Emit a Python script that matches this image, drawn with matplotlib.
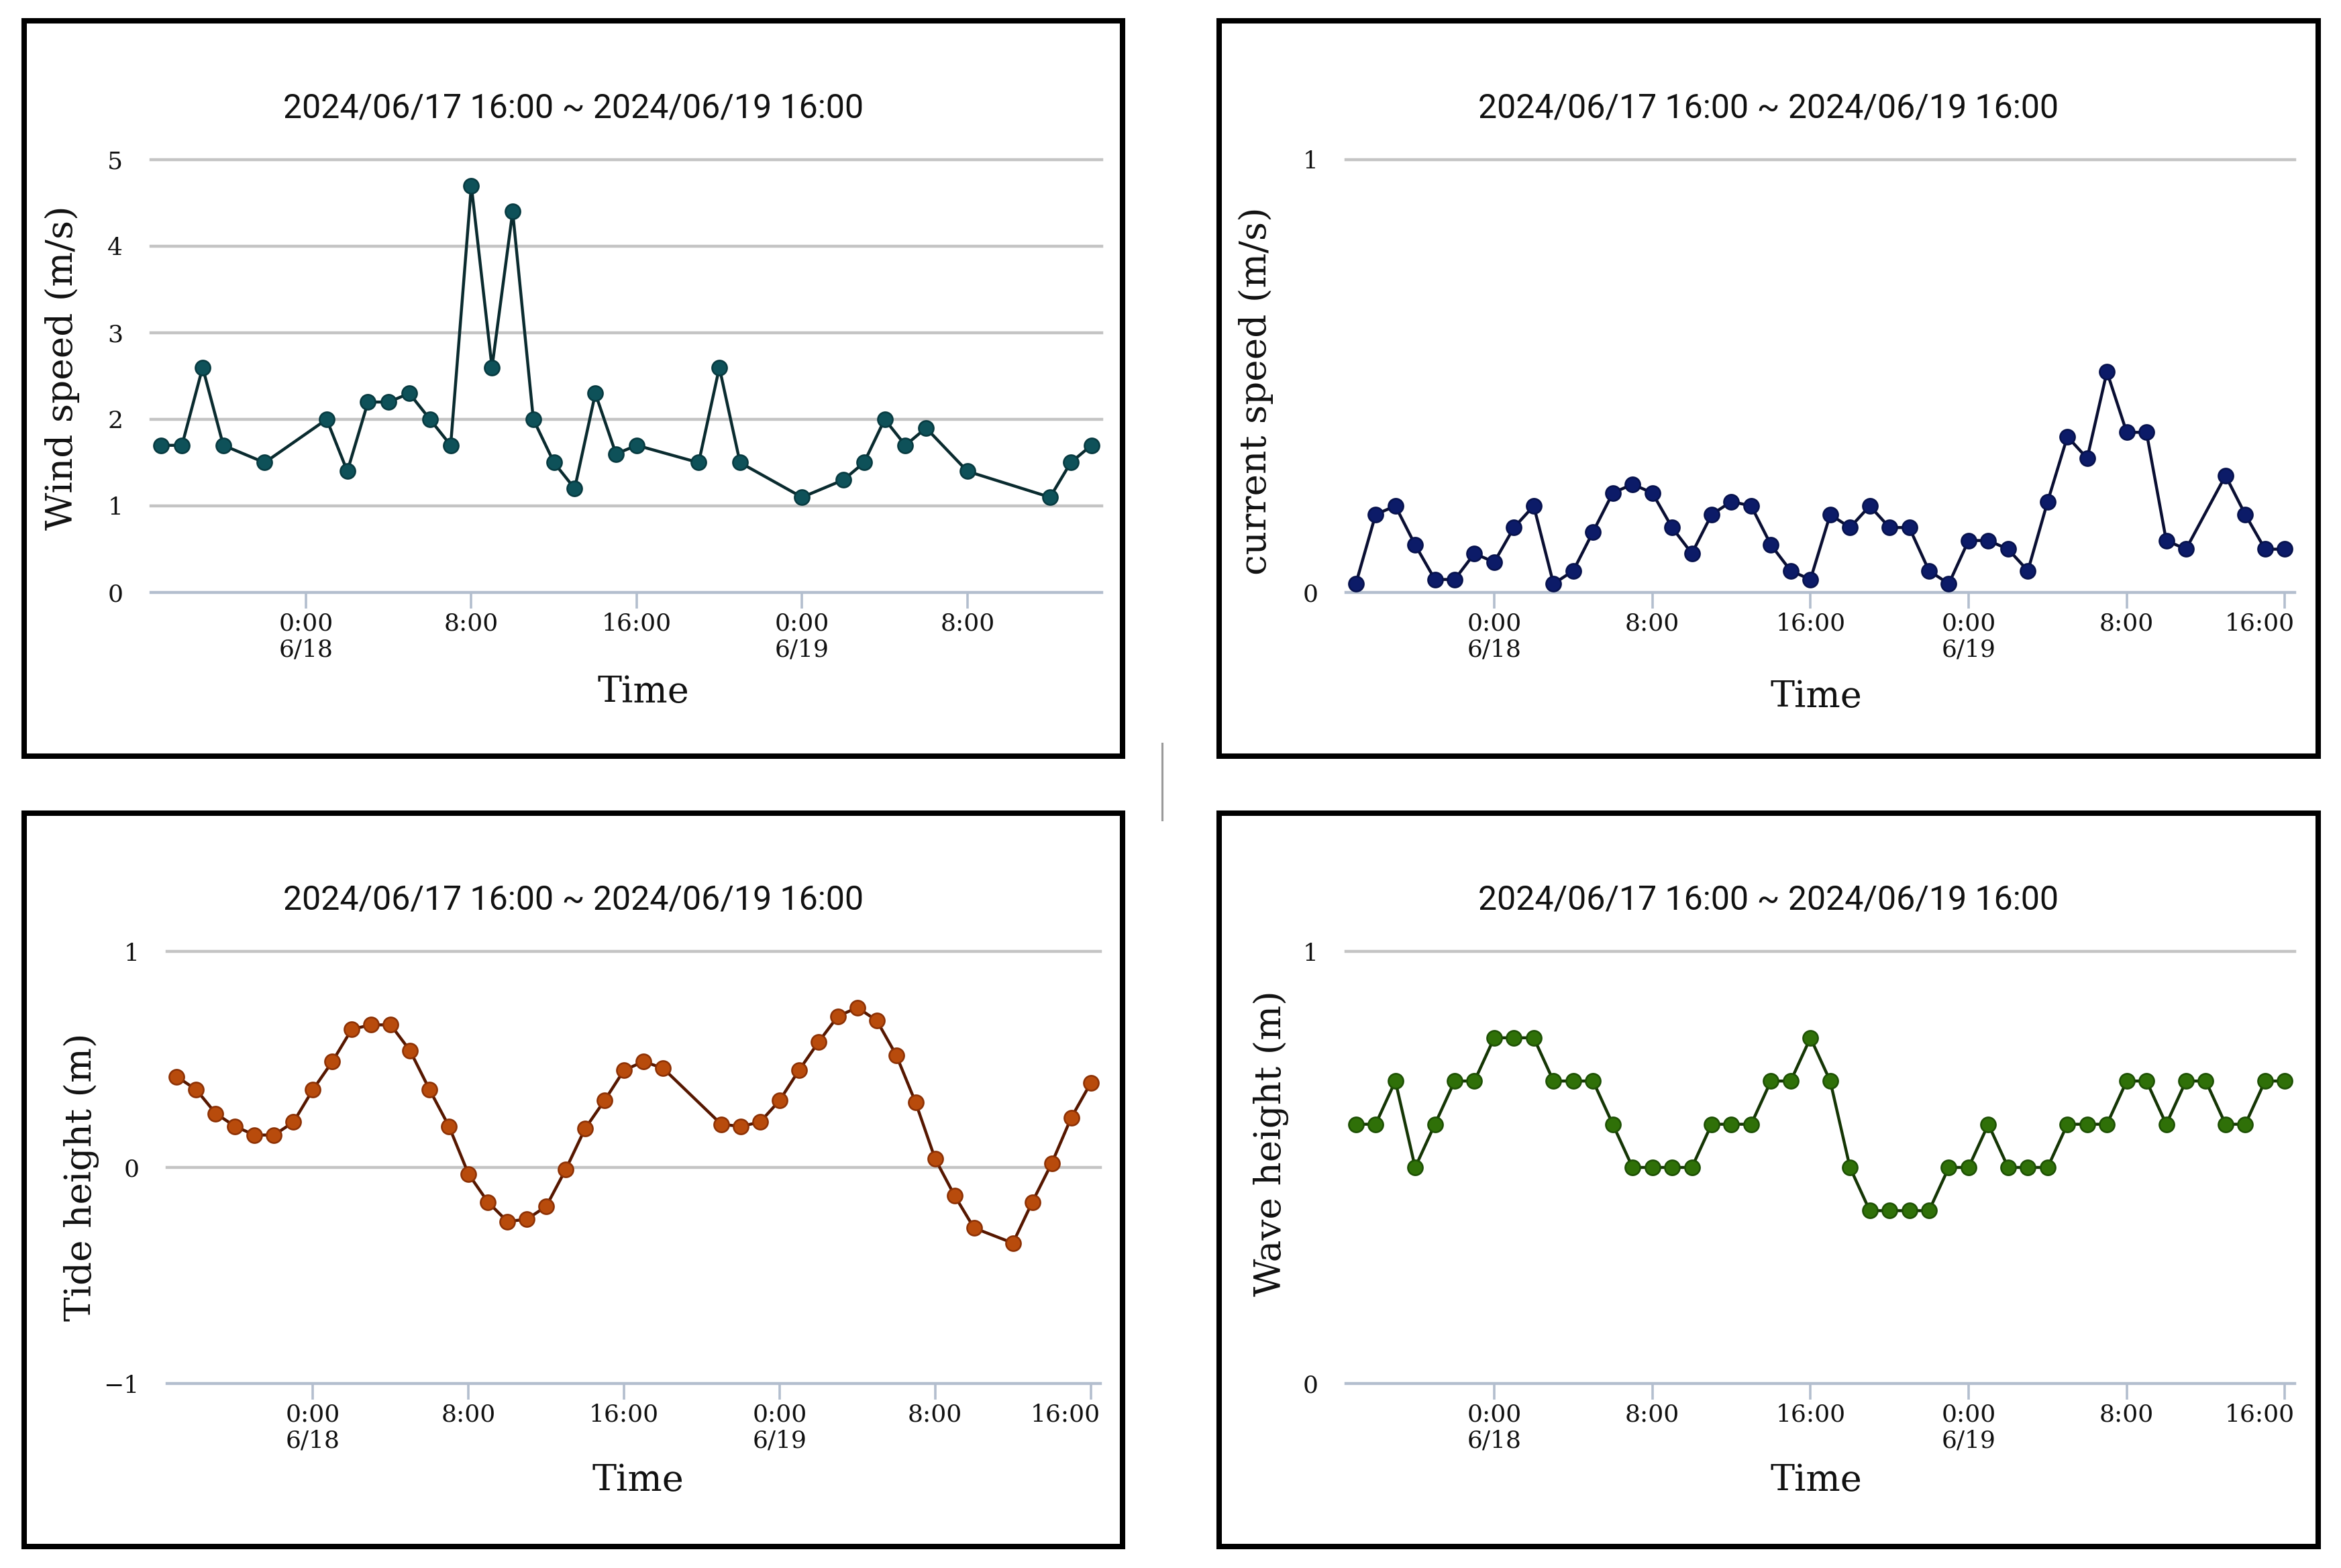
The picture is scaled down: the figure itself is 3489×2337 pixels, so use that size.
import matplotlib
matplotlib.use("Agg")
import matplotlib.pyplot as plt
import matplotlib.transforms as mtransforms
from matplotlib.patches import Rectangle
from matplotlib.lines import Line2D

# ---------------- data ----------------
title_text = "2024/06/17 16:00 ~ 2024/06/19 16:00"
# x positions are hours after 2024/06/17 16:00
tick_hours = [8, 16, 24, 32, 40, 48]
tick_labels = ["0:00\n6/18", "8:00", "16:00", "0:00\n6/19", "8:00", "16:00"]

wind_hours = [1, 2, 3, 4, 6, 9, 10, 11, 12, 13, 14, 15, 16, 17, 18, 19, 20, 21,
              22, 23, 24, 27, 28, 29, 32, 34, 35, 36, 37, 38, 40, 44, 45, 46]
wind_speed = [1.7, 1.7, 2.6, 1.7, 1.5, 2.0, 1.4, 2.2, 2.2, 2.3, 2.0, 1.7, 4.7, 2.6,
              4.4, 2.0, 1.5, 1.2, 2.3, 1.6, 1.7, 1.5, 2.6, 1.5, 1.1, 1.3, 1.5, 2.0,
              1.7, 1.9, 1.4, 1.1, 1.5, 1.7]
wind_yticks = [0, 1, 2, 3, 4, 5]

current_hours = [1, 2, 3, 4, 5, 6, 7, 8, 9, 10, 11, 12, 13, 14, 15, 16, 17, 18,
                 19, 20, 21, 22, 23, 24, 25, 26, 27, 28, 29, 30, 31, 32, 33, 34,
                 35, 36, 37, 38, 39, 40, 41, 42, 43, 45, 46, 47, 48]
current_speed = [0.02, 0.18, 0.20, 0.11, 0.03, 0.03, 0.09, 0.07, 0.15, 0.20,
                 0.02, 0.05, 0.14, 0.23, 0.25, 0.23, 0.15, 0.09, 0.18, 0.21,
                 0.20, 0.11, 0.05, 0.03, 0.18, 0.15, 0.20, 0.15, 0.15, 0.05,
                 0.02, 0.12, 0.12, 0.10, 0.05, 0.21, 0.36, 0.31, 0.51, 0.37,
                 0.37, 0.12, 0.10, 0.27, 0.18, 0.10, 0.10]
current_yticks = [0, 1]

tide_hours = [1, 2, 3, 4, 5, 6, 7, 8, 9, 10, 11, 12, 13, 14, 15, 16, 17, 18, 19,
              20, 21, 22, 23, 24, 25, 26, 29, 30, 31, 32, 33, 34, 35, 36, 37, 38,
              39, 40, 41, 42, 44, 45, 46, 47, 48]
tide_height = [0.42, 0.36, 0.25, 0.19, 0.15, 0.15, 0.21, 0.36, 0.49, 0.64,
               0.66, 0.66, 0.54, 0.36, 0.19, -0.03, -0.16, -0.25, -0.24, -0.18,
               -0.01, 0.18, 0.31, 0.45, 0.49, 0.46,
               0.20, 0.19, 0.21, 0.31, 0.45, 0.58, 0.70, 0.74, 0.68, 0.52,
               0.30, 0.04, -0.13, -0.28,
               -0.35, -0.16, 0.02, 0.23, 0.39]
tide_yticks = [-1, 0, 1]

wave_hours = [1, 2, 3, 4, 5, 6, 7, 8, 9, 10, 11, 12, 13, 14, 15, 16, 17, 18, 19,
              20, 21, 22, 23, 24, 25, 26, 27, 28, 29, 30, 31, 32, 33, 34, 35, 36,
              37, 38, 39, 40, 41, 42, 43, 44, 45, 46, 47, 48]
wave_height = [0.6, 0.6, 0.7, 0.5, 0.6, 0.7, 0.7, 0.8, 0.8, 0.8,
               0.7, 0.7, 0.7, 0.6, 0.5, 0.5, 0.5, 0.5, 0.6, 0.6,
               0.6, 0.7, 0.7, 0.8, 0.7, 0.5, 0.4, 0.4, 0.4, 0.4,
               0.5, 0.5, 0.6, 0.5, 0.5, 0.5, 0.6, 0.6, 0.6, 0.7,
               0.7, 0.6, 0.7, 0.7, 0.6, 0.6, 0.7, 0.7]
wave_yticks = [0, 1]

# ---------------- layout / style (pixels of the output image) ----------------
W, H = 3489, 2337
plt.rcParams["font.family"] = ["DejaVu Serif"]

fig = plt.figure(figsize=(W / 100, H / 100), dpi=100)
fig.patch.set_facecolor("white")


def fx(px):
    return px / W


def fy(py):
    return 1 - py / H


panels = [
    dict(hours=wind_hours, values=wind_speed, yticks=wind_yticks,
         ylabel="Wind speed (m/s)",
         ax=(225, 238, 1642, 883), frame=(36, 31, 1673, 1127),
         title_y=161, ylab=(93, 548), xlab=(959, 1032),
         mc="#0e5159", me="#073a40", lc="#0a2b2f"),
    dict(hours=current_hours, values=current_speed, yticks=current_yticks,
         ylabel="current speed (m/s)",
         ax=(2006, 238, 3420, 883), frame=(1817, 31, 3455, 1127),
         title_y=161, ylab=(1872, 583), xlab=(2707, 1039),
         mc="#0c1b68", me="#07124d", lc="#0a0f33"),
    dict(hours=tide_hours, values=tide_height, yticks=tide_yticks,
         ylabel="Tide height (m)",
         ax=(249, 1418, 1640, 2062), frame=(36, 1212, 1673, 2305),
         title_y=1341, ylab=(121, 1754), xlab=(951, 2207),
         mc="#b84b0c", me="#8c3105", lc="#561700"),
    dict(hours=wave_hours, values=wave_height, yticks=wave_yticks,
         ylabel="Wave height (m)",
         ax=(2006, 1418, 3420, 2062), frame=(1817, 1212, 3455, 2305),
         title_y=1341, ylab=(1894, 1704), xlab=(2707, 2207),
         mc="#2f7008", me="#1d5004", lc="#153605"),
]

axis_col = "#b3bece"
grid_col = "#c4c4c4"

for p in panels:
    l, t, r, b = p["ax"]
    ax = fig.add_axes([fx(l), fy(b), (r - l) / W, (b - t) / H])
    ax.set_facecolor("none")

    hrs, vals = p["hours"], p["values"]
    ax.plot(hrs, vals, color=p["lc"], lw=3.2, marker="o", ms=16,
            mfc=p["mc"], mec=p["me"], mew=1.8, zorder=4, clip_on=False)

    yt = p["yticks"]
    ax.set_ylim(yt[0], yt[-1])
    ax.set_xlim(hrs[0] - 0.5, hrs[-1] + 0.5)

    for v in yt[1:]:
        ax.axhline(v, color=grid_col, lw=3.2, zorder=1, clip_on=False)

    ax.set_yticks(yt)
    ax.set_yticklabels([("\u2212" + str(abs(v))) if v < 0 else str(v) for v in yt])
    ax.tick_params(axis="y", length=0, pad=30, labelsize=26, labelcolor="#111111")

    lo, hi = ax.get_xlim()
    xt = [(h, s) for h, s in zip(tick_hours, tick_labels) if lo <= h <= hi]
    ax.set_xticks([h for h, _ in xt])
    ax.set_xticklabels([s for _, s in xt])
    ax.tick_params(axis="x", length=17, width=2.6, color=axis_col, pad=4,
                   labelsize=26, labelcolor="#111111")
    # last label kept inside the plot area (justified to the right end)
    labels = ax.get_xticklabels()
    if xt and hi - xt[-1][0] < 1.0:
        last = labels[-1]
        last.set_horizontalalignment("right")
        last.set_transform(last.get_transform() +
                           mtransforms.ScaledTranslation(14 / 100, 0, fig.dpi_scale_trans))

    for side in ("top", "right", "left"):
        ax.spines[side].set_visible(False)
    ax.spines["bottom"].set_color(axis_col)
    ax.spines["bottom"].set_linewidth(3.2)
    ax.spines["bottom"].set_zorder(2)

    ax.set_ylabel(p["ylabel"], fontsize=39.5, va="center", color="#111111")
    ax.yaxis.set_label_coords((p["ylab"][0] - l) / (r - l), (b - p["ylab"][1]) / (b - t))
    ax.set_xlabel("Time", fontsize=39, va="center", color="#111111")
    ax.xaxis.set_label_coords((p["xlab"][0] - l) / (r - l), (b - p["xlab"][1]) / (b - t))

    fl, ft, fr, fb = p["frame"]
    fig.text(fx((fl + fr) / 2), fy(p["title_y"]), title_text, ha="center", va="center",
             fontsize=36, family=["Roboto", "DejaVu Sans"], color="#111111")
    fig.add_artist(Rectangle((fx(fl), fy(fb)), (fr - fl) / W, (fb - ft) / H,
                             transform=fig.transFigure, fill=False, lw=5.8,
                             ec="black", zorder=10))

fig.add_artist(Line2D([fx(1732), fx(1732)], [fy(1108), fy(1222)],
                      transform=fig.transFigure, color="#9a9a9a", lw=2.2))

fig.savefig("out.png", dpi=100, facecolor="white")
